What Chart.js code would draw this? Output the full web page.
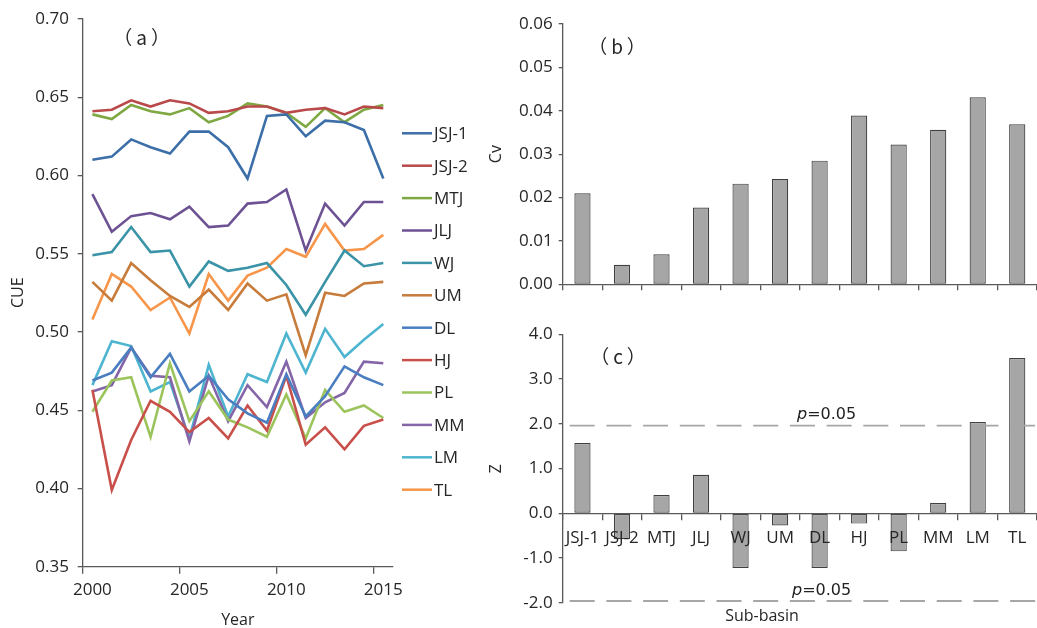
<!DOCTYPE html>
<html>
<head>
<meta charset="utf-8">
<script src="https://cdn.jsdelivr.net/npm/chart.js@4.4.1/dist/chart.umd.min.js"></script>
<style>
  html, body { margin: 0; padding: 0; background: #ffffff; }
  #wrap { position: relative; width: 1037px; height: 628px; overflow: hidden; }
  canvas { position: absolute; }
</style>
</head>
<body>
<div id="wrap">
  <canvas id="cueChart" width="480" height="628" style="left:0;top:0"></canvas>
  <canvas id="cvChart" width="557" height="310" style="left:480px;top:0"></canvas>
  <canvas id="zChart" width="557" height="318" style="left:480px;top:310px"></canvas>
</div>
<script>
// ---- data ----
const years = [2000, 2001, 2002, 2003, 2004, 2005, 2006, 2007, 2008, 2009, 2010, 2011, 2012, 2013, 2014, 2015];
const subBasins = ['JSJ-1', 'JSJ-2', 'MTJ', 'JLJ', 'WJ', 'UM', 'DL', 'HJ', 'PL', 'MM', 'LM', 'TL'];

// annual carbon use efficiency per sub-basin
const cueJSJ1 = [0.610, 0.612, 0.623, 0.618, 0.614, 0.628, 0.628, 0.618, 0.598, 0.638, 0.639, 0.625, 0.635, 0.634, 0.629, 0.598];
const cueJSJ2 = [0.641, 0.642, 0.648, 0.644, 0.648, 0.646, 0.640, 0.641, 0.644, 0.644, 0.640, 0.642, 0.643, 0.639, 0.644, 0.643];
const cueMTJ  = [0.639, 0.636, 0.645, 0.641, 0.639, 0.643, 0.634, 0.638, 0.646, 0.644, 0.640, 0.631, 0.643, 0.634, 0.642, 0.645];
const cueJLJ  = [0.588, 0.564, 0.574, 0.576, 0.572, 0.580, 0.567, 0.568, 0.582, 0.583, 0.591, 0.552, 0.582, 0.568, 0.583, 0.583];
const cueWJ   = [0.549, 0.551, 0.567, 0.551, 0.552, 0.529, 0.545, 0.539, 0.541, 0.544, 0.530, 0.511, 0.532, 0.552, 0.542, 0.544];
const cueUM   = [0.532, 0.520, 0.544, 0.533, 0.523, 0.516, 0.527, 0.514, 0.531, 0.520, 0.524, 0.485, 0.525, 0.523, 0.531, 0.532];
const cueDL   = [0.469, 0.474, 0.490, 0.471, 0.486, 0.462, 0.472, 0.457, 0.448, 0.442, 0.473, 0.446, 0.459, 0.478, 0.471, 0.466];
const cueHJ   = [0.463, 0.399, 0.431, 0.456, 0.449, 0.436, 0.445, 0.432, 0.453, 0.437, 0.472, 0.428, 0.439, 0.425, 0.440, 0.444];
const cuePL   = [0.449, 0.469, 0.471, 0.433, 0.480, 0.443, 0.462, 0.444, 0.439, 0.433, 0.460, 0.432, 0.463, 0.449, 0.453, 0.445];
const cueMM   = [0.462, 0.466, 0.490, 0.472, 0.471, 0.430, 0.472, 0.443, 0.466, 0.452, 0.481, 0.445, 0.455, 0.461, 0.481, 0.480];
const cueLM   = [0.466, 0.494, 0.491, 0.462, 0.468, 0.432, 0.479, 0.446, 0.473, 0.468, 0.499, 0.474, 0.502, 0.484, 0.495, 0.505];
const cueTL   = [0.508, 0.537, 0.529, 0.514, 0.522, 0.499, 0.537, 0.520, 0.536, 0.541, 0.553, 0.548, 0.569, 0.552, 0.553, 0.562];

// coefficient of variation and Mann-Kendall Z per sub-basin
const cvValues = [0.0210, 0.0045, 0.0069, 0.0177, 0.0232, 0.0243, 0.0285, 0.0389, 0.0322, 0.0356, 0.0431, 0.0369];
const zValues  = [1.57, -0.58, 0.41, 0.86, -1.22, -0.27, -1.22, -0.23, -0.85, 0.23, 2.04, 3.47];
const zCritical = 1.96;   // two-sided p = 0.05

// ---- styling ----
const cueSeries = [cueJSJ1, cueJSJ2, cueMTJ, cueJLJ, cueWJ, cueUM, cueDL, cueHJ, cuePL, cueMM, cueLM, cueTL];
const seriesColors = ['#3c6ea8', '#b9494a', '#7fa843', '#6d5293', '#3a93a6', '#c77c3b',
                      '#4a7ec0', '#c94f4b', '#9cc45c', '#8466a8', '#4db5cf', '#f7964a'];
const axisColor = '#595959';
const textColor = '#262626';
const barFill = '#a6a6a6';
const barEdge = '#404040';

Chart.defaults.font.family = '"Open Sans", "Noto Sans", sans-serif';
Chart.defaults.color = textColor;
Chart.defaults.animation = false;

// "(a)" style panel tag
const panelTag = {
  id: 'panelTag',
  afterDraw(chart, args, opts) {
    if (!opts || !opts.text) return;
    const ctx = chart.ctx;
    ctx.save();
    ctx.font = '19px "Noto Sans CJK SC", sans-serif';
    ctx.letterSpacing = '4px';
    ctx.fillStyle = textColor;
    ctx.textAlign = 'center';
    ctx.textBaseline = 'middle';
    ctx.fillText(opts.text, opts.x + 2, opts.y);
    ctx.restore();
  }
};

// series key to the right of the CUE plot
const seriesKey = {
  id: 'seriesKey',
  afterDraw(chart, args, opts) {
    if (!opts || !opts.display) return;
    const ctx = chart.ctx;
    ctx.save();
    ctx.font = '17px "Open Sans", sans-serif';
    ctx.textBaseline = 'middle';
    ctx.textAlign = 'left';
    chart.data.datasets.forEach((ds, i) => {
      const y = opts.top + i * opts.step;
      ctx.strokeStyle = ds.borderColor;
      ctx.lineWidth = 2.5;
      ctx.beginPath();
      ctx.moveTo(opts.left, y);
      ctx.lineTo(opts.left + 30, y);
      ctx.stroke();
      ctx.fillStyle = textColor;
      ctx.fillText(ds.label, opts.left + 32, y + 1);
    });
    ctx.restore();
  }
};

// significance thresholds for the Z panel
const thresholdLines = {
  id: 'thresholdLines',
  afterDatasetsDraw(chart, args, opts) {
    if (!opts || !opts.levels) return;
    const { ctx, chartArea } = chart;
    const yScale = chart.scales.y;
    ctx.save();
    opts.levels.forEach(level => {
      const py = yScale.getPixelForValue(level.value);
      ctx.strokeStyle = '#a6a6a6';
      ctx.lineWidth = 1.8;
      ctx.setLineDash([25, 11.7]);
      ctx.lineDashOffset = -5;
      ctx.beginPath();
      ctx.moveTo(chartArea.left + 2, py);
      ctx.lineTo(chartArea.right, py);
      ctx.stroke();
      ctx.setLineDash([]);
      // label "p=0.05" with italic p
      ctx.fillStyle = '#222222';
      ctx.textBaseline = 'alphabetic';
      ctx.textAlign = 'left';
      ctx.font = 'italic 16px "DejaVu Sans", sans-serif';
      const by = py - 6.5;
      ctx.fillText('p', level.x, by);
      const pw = ctx.measureText('p').width;
      ctx.font = '16px "DejaVu Sans", sans-serif';
      ctx.fillText('=0.05', level.x + pw, by);
    });
    ctx.restore();
  }
};

// ---- (a) CUE time series ----
new Chart(document.getElementById('cueChart'), {
  type: 'line',
  data: {
    labels: years,
    datasets: subBasins.map((name, i) => ({
      label: name,
      data: cueSeries[i],
      borderColor: seriesColors[i],
      backgroundColor: seriesColors[i],
      borderWidth: 2.6,
      pointRadius: 0,
      tension: 0,
      fill: false
    }))
  },
  options: {
    responsive: false,
    devicePixelRatio: 1,
    layout: { padding: { left: 8.7, top: 15.3, right: 87, bottom: 0 } },
    plugins: {
      legend: { display: false },
      tooltip: { enabled: false },
      panelTag: { text: '（a）', x: 141.7, y: 38 },
      seriesKey: { display: true, left: 402, top: 133.3, step: 32.4 }
    },
    scales: {
      x: {
        type: 'category',
        offset: true,
        grid: {
          offset: true,
          drawOnChartArea: false,
          drawTicks: true,
          tickLength: 7,
          lineWidth: 1.3,
          color: ctx => (ctx.index !== undefined && years[ctx.index] % 5 === 0) ? axisColor : 'rgba(0,0,0,0)'
        },
        border: { color: axisColor, width: 1.3 },
        ticks: {
          autoSkip: false,
          maxRotation: 0,
          padding: 6,
          font: { size: 17 },
          callback: (value, index) => (years[index] % 5 === 0 ? String(years[index]) : '')
        },
        title: { display: true, text: 'Year', font: { size: 16, lineHeight: 1 }, padding: { top: 0, bottom: 0 } },
        afterFit: scale => { scale.height = 61.3; }
      },
      y: {
        min: 0.35,
        max: 0.70,
        ticks: {
          stepSize: 0.05,
          padding: 8.7,
          font: { size: 17 },
          callback: v => Number(v).toFixed(2)
        },
        grid: { drawOnChartArea: false, drawTicks: true, tickLength: 5, color: axisColor, lineWidth: 1.3 },
        border: { color: axisColor, width: 1.3 },
        title: { display: true, text: 'CUE', font: { size: 16 }, padding: { top: 0, bottom: 0 } },
        afterFit: scale => { scale.width = 74; }
      }
    }
  },
  plugins: [panelTag, seriesKey]
});

// ---- (b) coefficient of variation ----
new Chart(document.getElementById('cvChart'), {
  type: 'bar',
  data: {
    labels: subBasins,
    datasets: [{
      label: 'Cv',
      data: cvValues,
      backgroundColor: barFill,
      borderColor: barEdge,
      borderWidth: 1.2,
      borderSkipped: false,
      barPercentage: 0.41,
      categoryPercentage: 1.0
    }]
  },
  options: {
    responsive: false,
    devicePixelRatio: 1,
    layout: { padding: { left: 7, top: 24, right: 0, bottom: 0 } },
    plugins: {
      legend: { display: false },
      tooltip: { enabled: false },
      panelTag: { text: '（b）', x: 137, y: 46.7 }
    },
    scales: {
      x: {
        grid: { offset: true, drawOnChartArea: false, drawTicks: true, tickLength: 6, color: axisColor, lineWidth: 1.3 },
        border: { color: axisColor, width: 1.3 },
        ticks: { display: false },
        afterFit: scale => { scale.height = 25.7; }
      },
      y: {
        min: 0,
        max: 0.06,
        ticks: {
          stepSize: 0.01,
          padding: 6,
          font: { size: 17 },
          callback: v => Number(v).toFixed(2)
        },
        grid: { drawOnChartArea: false, drawTicks: true, tickLength: 4, color: axisColor, lineWidth: 1.3 },
        border: { color: axisColor, width: 1.3 },
        title: { display: true, text: 'Cv', font: { size: 16 }, padding: { top: 0, bottom: 0 } },
        afterFit: scale => { scale.width = 75.7; }
      }
    }
  },
  plugins: [panelTag]
});

// ---- (c) Mann-Kendall Z ----
new Chart(document.getElementById('zChart'), {
  type: 'bar',
  data: {
    labels: subBasins,
    datasets: [{
      label: 'Z',
      data: zValues,
      backgroundColor: barFill,
      borderColor: barEdge,
      borderWidth: 1.2,
      borderSkipped: false,
      barPercentage: 0.41,
      categoryPercentage: 1.0
    }]
  },
  options: {
    responsive: false,
    devicePixelRatio: 1,
    layout: { padding: { left: 7, top: 24.3, right: 0, bottom: 0 } },
    plugins: {
      legend: { display: false },
      tooltip: { enabled: false },
      title: {
        display: true,
        position: 'bottom',
        text: 'Sub-basin',
        color: textColor,
        font: { size: 16, weight: 'normal' },
        padding: { top: 4, bottom: 2 }
      },
      panelTag: { text: '（c）', x: 138, y: 46.7 },
      thresholdLines: {
        levels: [
          { value: zCritical, x: 317 },
          { value: -zCritical, x: 312 }
        ]
      }
    },
    scales: {
      x: {
        position: { y: 0 },
        grid: { offset: true, drawOnChartArea: false, drawTicks: true, tickLength: 6, color: axisColor, lineWidth: 1.3, z: 1 },
        border: { color: axisColor, width: 1.3, z: 1 },
        ticks: { autoSkip: false, maxRotation: 0, padding: 8.5, font: { size: 17 }, z: 1 }
      },
      y: {
        min: -2,
        max: 4,
        ticks: {
          stepSize: 1,
          padding: 6,
          font: { size: 17 },
          callback: v => Number(v).toFixed(1)
        },
        grid: { drawOnChartArea: false, drawTicks: true, tickLength: 4, color: axisColor, lineWidth: 1.3 },
        border: { color: axisColor, width: 1.3 },
        title: { display: true, text: 'Z', font: { size: 16 }, padding: { top: 0, bottom: 0 } },
        afterFit: scale => { scale.width = 75.7; }
      }
    }
  },
  plugins: [panelTag, thresholdLines]
});
</script>
</body>
</html>
